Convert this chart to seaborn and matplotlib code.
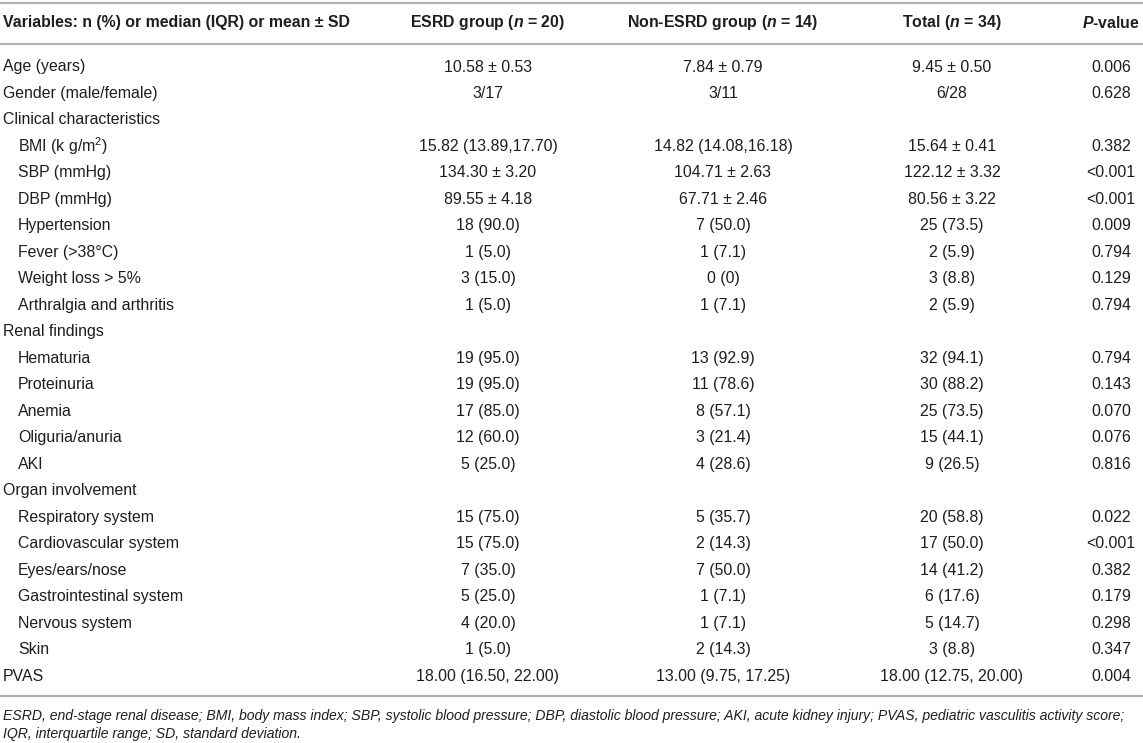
import matplotlib
matplotlib.use("Agg")
import matplotlib.pyplot as plt
import seaborn as sns

# table contents
col_headers = [
    "Variables: n (%) or median (IQR) or mean ± SD",
    r"ESRD group ($\mathbfit{n}$ = 20)",
    r"Non-ESRD group ($\mathbfit{n}$ = 14)",
    r"Total ($\mathbfit{n}$ = 34)",
    r"$\mathbfit{P}$-value",
]

row_labels = [
    "Age (years)", "Gender (male/female)", "Clinical characteristics",
    r"BMI (k g/m$^2$)", "SBP (mmHg)", "DBP (mmHg)", "Hypertension",
    "Fever (>38°C)", "Weight loss > 5%", "Arthralgia and arthritis",
    "Renal findings", "Hematuria", "Proteinuria", "Anemia",
    "Oliguria/anuria", "AKI", "Organ involvement", "Respiratory system",
    "Cardiovascular system", "Eyes/ears/nose", "Gastrointestinal system",
    "Nervous system", "Skin", "PVAS",
]

esrd = [
    "10.58 ± 0.53", "3/17", "", "15.82 (13.89,17.70)", "134.30 ± 3.20",
    "89.55 ± 4.18", "18 (90.0)", "1 (5.0)", "3 (15.0)", "1 (5.0)", "",
    "19 (95.0)", "19 (95.0)", "17 (85.0)", "12 (60.0)", "5 (25.0)", "",
    "15 (75.0)", "15 (75.0)", "7 (35.0)", "5 (25.0)", "4 (20.0)", "1 (5.0)",
    "18.00 (16.50, 22.00)",
]
non_esrd = [
    "7.84 ± 0.79", "3/11", "", "14.82 (14.08,16.18)", "104.71 ± 2.63",
    "67.71 ± 2.46", "7 (50.0)", "1 (7.1)", "0 (0)", "1 (7.1)", "",
    "13 (92.9)", "11 (78.6)", "8 (57.1)", "3 (21.4)", "4 (28.6)", "",
    "5 (35.7)", "2 (14.3)", "7 (50.0)", "1 (7.1)", "1 (7.1)", "2 (14.3)",
    "13.00 (9.75, 17.25)",
]
total = [
    "9.45 ± 0.50", "6/28", "", "15.64 ± 0.41", "122.12 ± 3.32",
    "80.56 ± 3.22", "25 (73.5)", "2 (5.9)", "3 (8.8)", "2 (5.9)", "",
    "32 (94.1)", "30 (88.2)", "25 (73.5)", "15 (44.1)", "9 (26.5)", "",
    "20 (58.8)", "17 (50.0)", "14 (41.2)", "6 (17.6)", "5 (14.7)", "3 (8.8)",
    "18.00 (12.75, 20.00)",
]
p_values = [
    "0.006", "0.628", "", "0.382", "<0.001", "<0.001", "0.009", "0.794",
    "0.129", "0.794", "", "0.794", "0.143", "0.070", "0.076", "0.816", "",
    "0.022", "<0.001", "0.382", "0.179", "0.298", "0.347", "0.004",
]

# rows that are not indented
top_level = ["Age (years)", "Gender (male/female)", "Clinical characteristics",
             "Renal findings", "Organ involvement", "PVAS"]

footnote = [
    "ESRD, end-stage renal disease; BMI, body mass index; SBP, systolic blood pressure; "
    "DBP, diastolic blood pressure; AKI, acute kidney injury; PVAS, pediatric vasculitis activity score;",
    "IQR, interquartile range; SD, standard deviation.",
]

sns.set_theme(style="white")
plt.rcParams["font.family"] = ["Liberation Sans", "DejaVu Sans"]
plt.rcParams["mathtext.fontset"] = "custom"
plt.rcParams["mathtext.rm"] = "Liberation Sans"
plt.rcParams["mathtext.it"] = "Liberation Sans:italic"
plt.rcParams["mathtext.bf"] = "Liberation Sans:bold"
plt.rcParams["mathtext.bfit"] = "Liberation Sans:italic:bold"

W, H = 1143, 743
fig = plt.figure(figsize=(W / 100, H / 100), dpi=100)
ax = fig.add_axes([0, 0, 1, 1])
ax.set_xlim(0, W)
ax.set_ylim(H, 0)
ax.axis("off")

txt_color = "#1e1e1e"
rule_color = "#b4b4b4"
fs = 11.4

col_x = [3, 488, 723, 952, 1111]
header_y = 23
row_y0, row_h = 67, 26.48

# rules
for y in (3, 44, 696):
    ax.axhline(y, color=rule_color, lw=1.6)

# header
for j, h in enumerate(col_headers):
    ax.text(col_x[j], header_y, h, ha="left" if j == 0 else "center",
            va="center", fontsize=fs, fontweight="bold", color=txt_color)

# body
for i, lab in enumerate(row_labels):
    y = row_y0 + i * row_h
    x = col_x[0] if lab in top_level else col_x[0] + 15
    ax.text(x, y, lab, ha="left", va="center", fontsize=fs, color=txt_color)
    for j, col in enumerate([esrd, non_esrd, total, p_values], start=1):
        ax.text(col_x[j], y, col[i], ha="center", va="center",
                fontsize=fs, color=txt_color)

# footnote, fitted to the table width
fig.canvas.draw()
renderer = fig.canvas.get_renderer()
t1 = ax.text(3, 716, footnote[0], ha="left", va="center", fontsize=fs,
             style="italic", color=txt_color)
w = t1.get_window_extent(renderer).width
foot_fs = fs * 1132 / w
t1.set_fontsize(foot_fs)
ax.text(3, 734, footnote[1], ha="left", va="center", fontsize=foot_fs,
        style="italic", color=txt_color)

fig.savefig("out.png", dpi=100)
